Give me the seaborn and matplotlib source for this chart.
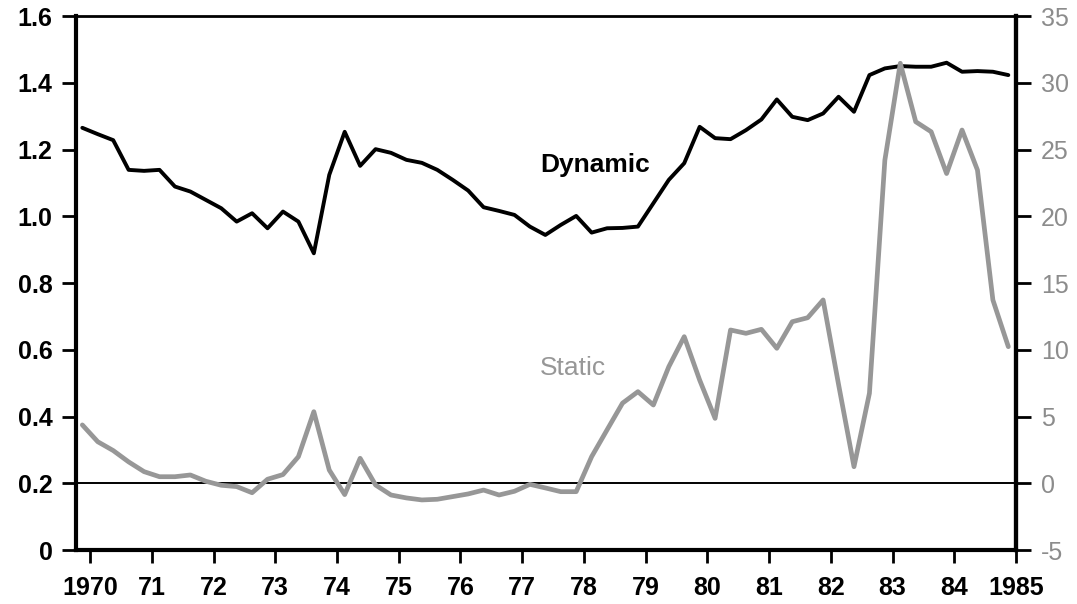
import numpy as np
import pandas as pd
import matplotlib
matplotlib.use("Agg")
import matplotlib.pyplot as plt
import seaborn as sns

# ---- data (quarterly, 1969Q4 .. 1984Q4) ----
dynamic = [1.265, 1.246, 1.228, 1.139, 1.136, 1.139, 1.089, 1.074, 1.049, 1.024,
           0.984, 1.009, 0.964, 1.014, 0.984, 0.889, 1.124, 1.253, 1.151, 1.201,
           1.190, 1.169, 1.160, 1.139, 1.109, 1.077, 1.027, 1.016, 1.004, 0.969,
           0.944, 0.974, 1.001, 0.951, 0.964, 0.965, 0.969, 1.039, 1.109, 1.159,
           1.268, 1.234, 1.231, 1.258, 1.290, 1.350, 1.298, 1.288, 1.308, 1.358,
           1.313, 1.423, 1.443, 1.450, 1.448, 1.448, 1.460, 1.433, 1.435, 1.433,
           1.423]
static = [4.37, 3.11, 2.45, 1.6, 0.87, 0.49, 0.49, 0.62, 0.15, -0.15,
          -0.25, -0.71, 0.3, 0.65, 1.99, 5.36, 0.99, -0.85, 1.87, -0.13,
          -0.88, -1.1, -1.25, -1.2, -1.0, -0.8, -0.51, -0.88, -0.6, -0.08,
          -0.35, -0.63, -0.63, 1.99, 4.0, 6.0, 6.86, 5.86, 8.73, 10.98,
          7.73, 4.86, 11.48, 11.23, 11.53, 10.11, 12.1, 12.4, 13.73, 7.4,
          1.24, 6.74, 24.2, 31.46, 27.08, 26.33, 23.2, 26.46, 23.46, 13.73,
          10.23]
quarter_mid = 1969.875 + 0.25 * np.arange(len(dynamic))  # quarter midpoints

x_ticks = list(range(1970, 1986))
x_labels = ["1970", "71", "72", "73", "74", "75", "76", "77", "78", "79",
            "80", "81", "82", "83", "84", "1985"]
left_ticks = [0, 0.2, 0.4, 0.6, 0.8, 1.0, 1.2, 1.4, 1.6]
left_labels = ["0", "0.2", "0.4", "0.6", "0.8", "1.0", "1.2", "1.4", "1.6"]
right_ticks = [-5, 0, 5, 10, 15, 20, 25, 30, 35]
right_labels = ["-5", "0", "5", "10", "15", "20", "25", "30", "35"]

df = pd.DataFrame({"date": quarter_mid, "dynamic": dynamic, "static": static})

sns.set_theme(style="ticks")
plt.rcParams["font.family"] = ["Liberation Sans", "DejaVu Sans"]

GRAY = "#979797"
LABEL_GRAY = "#8c8c8c"

fig, ax = plt.subplots(figsize=(10.77, 6.04), dpi=100)
fig.subplots_adjust(left=0.0706, right=0.9434, bottom=0.0894, top=0.9735)
ax2 = ax.twinx()

ax.axhline(0.2, color="black", lw=1.4, zorder=1)
sns.lineplot(data=df, x="date", y="dynamic", ax=ax, color="black", lw=2.8)
sns.lineplot(data=df, x="date", y="static", ax=ax2, color=GRAY, lw=3.4)

ax.set_xlim(1969.773, 1985)
ax.set_ylim(0, 1.6)
ax2.set_ylim(-5, 35)

ax.set_xlabel("")
ax.set_ylabel("")
ax2.set_ylabel("")

ax.set_xticks(x_ticks)
ax.set_xticklabels(x_labels, fontweight="bold")
ax.set_yticks(left_ticks)
ax.set_yticklabels(left_labels, fontweight="bold")
ax2.set_yticks(right_ticks)
ax2.set_yticklabels(right_labels)

ax.tick_params(axis="x", direction="out", length=9, width=2, pad=10,
               labelsize=18, colors="black")
ax.tick_params(axis="y", direction="out", length=10, width=2, pad=7,
               labelsize=18, colors="black")
ax2.tick_params(axis="y", which="major", direction="out", length=11, width=2,
                pad=7, labelsize=18, color="black", labelcolor=LABEL_GRAY,
                right=True, labelright=True)

for side, lw in [("left", 3), ("bottom", 3), ("top", 2), ("right", 3)]:
    ax.spines[side].set_linewidth(lw)
    ax.spines[side].set_color("black")
    ax.spines[side].set_visible(True)
for side in ["left", "bottom", "top"]:
    ax2.spines[side].set_visible(False)
ax2.spines["right"].set_linewidth(3)
ax2.spines["right"].set_color("black")

ax.text(1978.18, 1.154, "Dynamic", fontsize=19, fontweight="bold",
        color="black", ha="center", va="center")
ax2.text(1977.82, 8.63, "Static", fontsize=19, color=GRAY,
         ha="center", va="center")

fig.savefig("out.png", dpi=100, facecolor="white")
